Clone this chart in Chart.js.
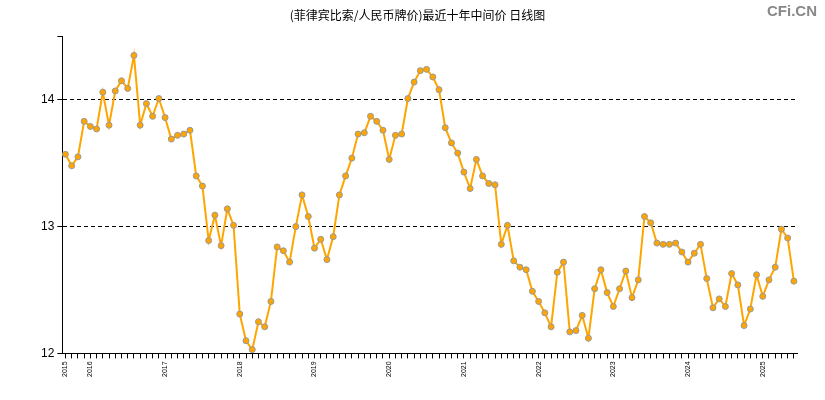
<!DOCTYPE html>
<html>
<head>
<meta charset="utf-8">
<script src="https://cdn.jsdelivr.net/npm/chart.js@4/dist/chart.umd.min.js"></script>
<style>
  body { margin: 0; background: #fff; }
  #wrap { position: relative; width: 825px; height: 400px; }
  #logo { position: absolute; right: 8px; top: 2px; font: bold 15px "Liberation Sans", Arial, sans-serif; color: #888; }
</style>
</head>
<body>
<div id="wrap">
  <canvas id="chart" width="825" height="400"></canvas>
  <div id="logo">CFi.CN</div>
</div>
<script>
var startYear = 2015, startMonth = 9; // first point is 2015-09
var rates = [13.57,13.48,13.55,13.83,13.79,13.77,14.06,13.80,14.07,14.15,14.09,14.35,
  13.80,13.97,13.87,14.01,13.86,13.69,13.72,13.73,13.76,13.40,13.32,12.89,
  13.09,12.85,13.14,13.01,12.31,12.10,12.03,12.25,12.21,12.41,12.84,12.81,
  12.72,13.00,13.25,13.08,12.83,12.90,12.74,12.92,13.25,13.40,13.54,13.73,
  13.74,13.87,13.83,13.76,13.53,13.72,13.73,14.01,14.14,14.23,14.24,14.18,
  14.08,13.78,13.66,13.58,13.43,13.30,13.53,13.40,13.34,13.33,12.86,13.01,
  12.73,12.68,12.66,12.49,12.41,12.32,12.21,12.64,12.72,12.17,12.18,12.30,
  12.12,12.51,12.66,12.48,12.37,12.51,12.65,12.44,12.58,13.08,13.03,12.87,
  12.86,12.86,12.87,12.80,12.72,12.79,12.86,12.59,12.36,12.43,12.37,12.63,
  12.54,12.22,12.35,12.62,12.45,12.58,12.68,12.98,12.91,12.57];

var months = rates.map(function(v, i) {
  var m = startMonth - 1 + i;
  return { year: startYear + Math.floor(m / 12), month: m % 12 + 1 };
});
var labels = months.map(function(d) { return d.year + '-' + (d.month < 10 ? '0' : '') + d.month; });

new Chart(document.getElementById('chart').getContext('2d'), {
  type: 'line',
  data: {
    labels: labels,
    datasets: [{
      data: rates,
      borderColor: '#FFA500',
      borderWidth: 2,
      pointBackgroundColor: '#FFA500',
      pointBorderColor: '#999',
      pointBorderWidth: 1,
      pointRadius: 3,
      tension: 0
    }]
  },
  options: {
    responsive: false,
    animation: false,
    layout: { padding: { left: 38, right: 28, top: 2, bottom: 20 } },
    plugins: {
      legend: { display: false },
      tooltip: { enabled: false },
      title: {
        display: true,
        text: '(菲律宾比索/人民币牌价)最近十年中间价 日线图',
        color: '#000',
        font: { family: '"Noto Sans CJK SC", sans-serif', size: 12, weight: 'normal' },
        padding: { top: 6, bottom: 14 }
      }
    },
    scales: {
      x: {
        offset: true,
        border: { color: '#000', width: 1 },
        grid: { drawOnChartArea: false, color: '#000', tickLength: 5 },
        ticks: {
          autoSkip: false,
          maxRotation: 90,
          minRotation: 90,
          color: '#000',
          font: { family: '"Liberation Sans", Arial', size: 7 },
          callback: function(v, i) {
            var d = months[i];
            return (i === 0 || d.month === 1) ? String(d.year) : '';
          }
        }
      },
      y: {
        min: 12,
        max: 14.5,
        border: { color: '#000', width: 1, dash: [4, 3] },
        grid: {
          color: function(c) { return c.tick.value === 13 || c.tick.value === 14 ? '#000' : 'rgba(0,0,0,0)'; },
          tickLength: 5,
          tickColor: '#000'
        },
        ticks: {
          stepSize: 1,
          color: '#000',
          font: { family: '"Liberation Sans", Arial', size: 12 },
          callback: function(v) { return Number.isInteger(v) ? v : ''; }
        }
      }
    }
  }
});
</script>
</body>
</html>
